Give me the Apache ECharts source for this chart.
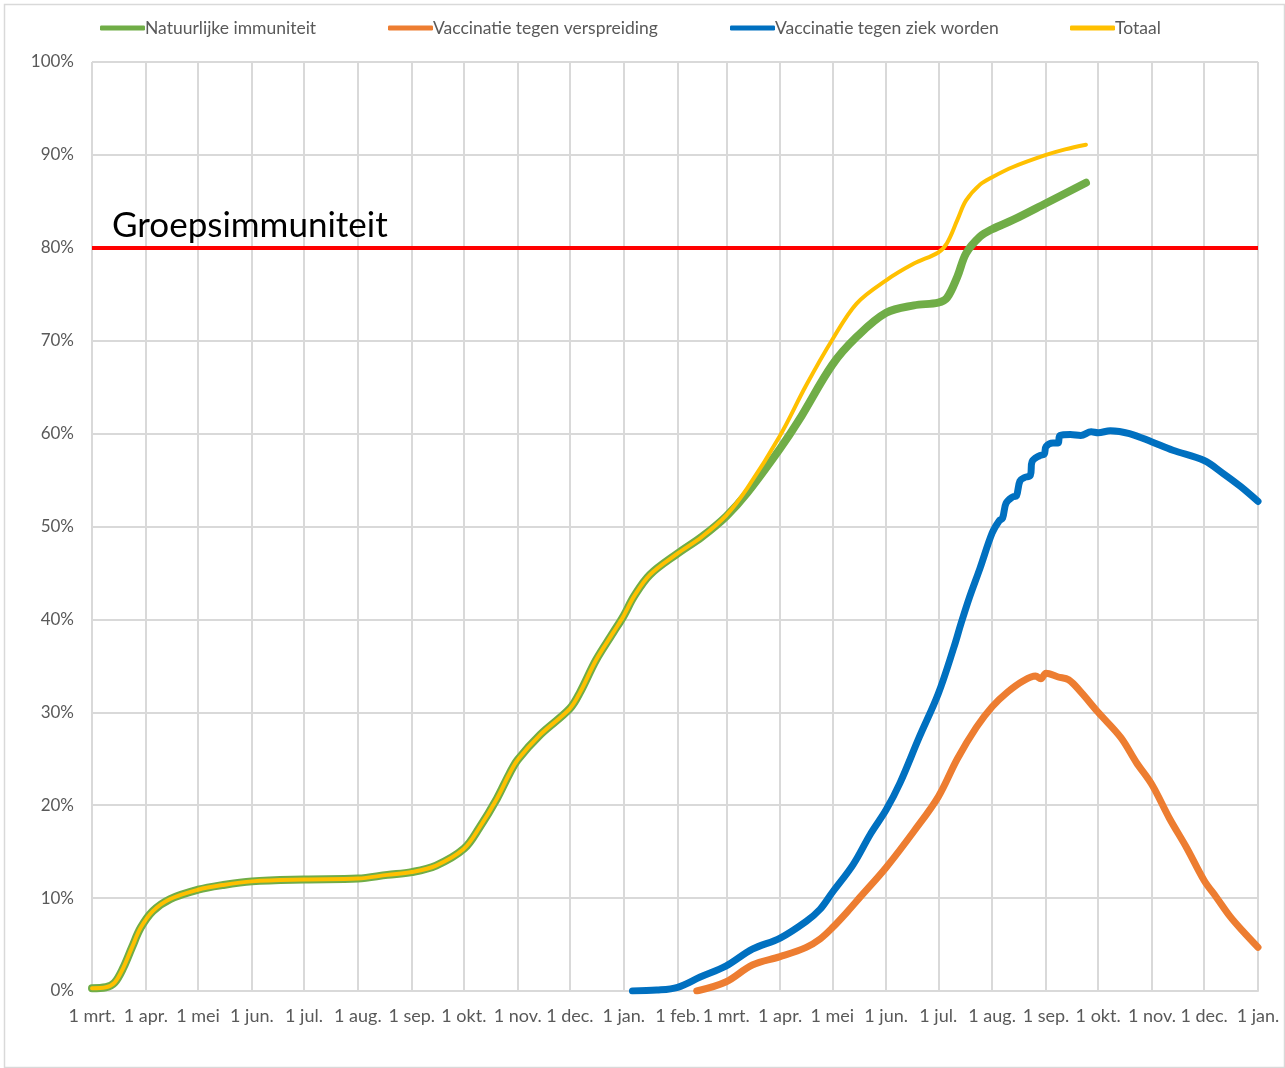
<!DOCTYPE html>
<html>
<head>
<meta charset="utf-8">
<script src="https://cdn.jsdelivr.net/npm/echarts@6/dist/echarts.min.js"></script>
<style>
html,body{margin:0;padding:0;background:#fff;}
#chart{width:1285px;height:1068px;}
</style>
</head>
<body>
<div id="chart"></div>
<script>
// x-axis ticks (first of each month)
const tickDates = ['2020-03-01','2020-04-01','2020-05-01','2020-06-01','2020-07-01','2020-08-01','2020-09-01','2020-10-01','2020-11-01','2020-12-01','2021-01-01','2021-02-01','2021-03-01','2021-04-01','2021-05-01','2021-06-01','2021-07-01','2021-08-01','2021-09-01','2021-10-01','2021-11-01','2021-12-01','2022-01-01'];
const tickLabels = ['1 mrt.','1 apr.','1 mei','1 jun.','1 jul.','1 aug.','1 sep.','1 okt.','1 nov.','1 dec.','1 jan.','1 feb.','1 mrt.','1 apr.','1 mei','1 jun.','1 jul.','1 aug.','1 sep.','1 okt.','1 nov.','1 dec.','1 jan.'];

// Natuurlijke immuniteit (%)
const naturalDates = ['2020-03-01','2020-03-09','2020-03-14','2020-03-19','2020-03-24','2020-03-29','2020-04-05','2020-04-15','2020-05-01','2020-05-15','2020-06-01','2020-07-01','2020-08-01','2020-08-18','2020-09-01','2020-09-15','2020-10-01','2020-10-10','2020-10-20','2020-10-27','2020-11-01','2020-11-14','2020-12-01','2020-12-07','2020-12-16','2020-12-26','2021-01-01','2021-01-07','2021-01-16','2021-02-01','2021-02-15','2021-03-01','2021-03-13','2021-04-01','2021-04-12','2021-05-01','2021-05-15','2021-06-01','2021-06-17','2021-07-01','2021-07-06','2021-07-12','2021-07-17','2021-07-25','2021-08-01','2021-08-13','2021-09-01','2021-09-24'];
const naturalValues = [0.3,0.4,0.9,2.5,4.7,6.8,8.6,9.9,10.9,11.4,11.8,12.0,12.1,12.5,12.8,13.5,15.3,17.6,20.7,23.3,24.9,27.6,30.4,32.2,35.6,38.6,40.4,42.5,44.8,47.1,48.9,51.1,53.6,58.4,61.5,67.4,70.4,73.0,73.8,74.1,74.6,76.9,79.4,81.2,82.0,83.0,84.8,87.0];

// Totaal (%)
const totalDates = ['2020-03-01','2020-03-09','2020-03-14','2020-03-19','2020-03-24','2020-03-29','2020-04-05','2020-04-15','2020-05-01','2020-05-15','2020-06-01','2020-07-01','2020-08-01','2020-08-18','2020-09-01','2020-09-15','2020-10-01','2020-10-10','2020-10-20','2020-10-27','2020-11-01','2020-11-14','2020-12-01','2020-12-07','2020-12-16','2020-12-26','2021-01-01','2021-01-07','2021-01-16','2021-02-01','2021-02-15','2021-03-01','2021-03-13','2021-04-01','2021-04-16','2021-05-01','2021-05-15','2021-06-01','2021-06-17','2021-07-01','2021-07-06','2021-07-12','2021-07-17','2021-07-25','2021-08-01','2021-08-13','2021-09-01','2021-09-12','2021-09-24'];
const totalValues = [0.3,0.4,0.9,2.5,4.7,6.8,8.6,9.9,10.9,11.4,11.8,12.0,12.1,12.5,12.8,13.5,15.3,17.6,20.7,23.3,24.9,27.6,30.4,32.2,35.6,38.6,40.4,42.5,44.8,47.1,48.9,51.2,54.1,59.8,65.2,70.1,74.0,76.5,78.3,79.5,80.5,83.0,85.1,86.8,87.6,88.7,90.0,90.6,91.1];

// Vaccinatie tegen ziek worden (%)
const sickDates = ['2021-01-06','2021-01-20','2021-02-01','2021-02-14','2021-03-01','2021-03-16','2021-04-01','2021-04-16','2021-04-24','2021-05-01','2021-05-13','2021-05-23','2021-06-01','2021-06-09','2021-06-20','2021-07-01','2021-07-10','2021-07-14','2021-07-19','2021-07-25','2021-08-01','2021-08-05','2021-08-07','2021-08-09','2021-08-13','2021-08-15','2021-08-17','2021-08-20','2021-08-23','2021-08-24','2021-08-28','2021-08-31','2021-09-01','2021-09-05','2021-09-08','2021-09-09','2021-09-15','2021-09-21','2021-09-27','2021-10-01','2021-10-08','2021-10-19','2021-11-01','2021-11-13','2021-12-01','2021-12-12','2021-12-22','2022-01-01'];
const sickValues = [0,0.1,0.4,1.5,2.7,4.5,5.7,7.5,8.8,10.6,13.6,16.9,19.5,22.4,27.3,32.0,37.0,39.5,42.4,45.5,49.3,50.6,50.9,52.5,53.2,53.3,54.9,55.3,55.5,57.0,57.6,57.8,58.6,59.0,59.0,59.8,59.9,59.8,60.2,60.1,60.3,60.0,59.1,58.2,57.1,55.7,54.3,52.7];

// Vaccinatie tegen verspreiding (%)
const spreadDates = ['2021-02-12','2021-03-01','2021-03-16','2021-04-01','2021-04-16','2021-04-24','2021-05-01','2021-05-10','2021-05-17','2021-06-01','2021-06-17','2021-07-01','2021-07-12','2021-07-23','2021-08-01','2021-08-10','2021-08-19','2021-08-26','2021-08-29','2021-09-01','2021-09-08','2021-09-14','2021-09-21','2021-10-01','2021-10-14','2021-10-23','2021-11-01','2021-11-11','2021-11-21','2021-12-01','2021-12-08','2021-12-16','2021-12-23','2022-01-01'];
const spreadValues = [0,1.0,2.8,3.7,4.7,5.6,6.8,8.6,10.1,13.3,17.2,20.9,25.0,28.4,30.6,32.2,33.4,33.9,33.6,34.2,33.8,33.5,32.2,30.0,27.3,24.6,22.2,18.6,15.4,11.9,10.1,8.0,6.5,4.7];

const threshold = 80;

const DAY = 86400000;
const origin = Date.UTC(2020, 2, 1);
function dayOf(s) {
  const p = s.split('-').map(Number);
  return Math.round((Date.UTC(p[0], p[1] - 1, p[2]) - origin) / DAY);
}
const tickDays = tickDates.map(dayOf);
function pairs(dates, vals) { return dates.map((d, i) => [dayOf(d), vals[i]]); }

const FONT = 'Lato, "Open Sans", sans-serif';
const GREY = '#595959';

const chart = echarts.init(document.getElementById('chart'), null, {renderer: 'canvas'});

function legendFor(name, left) {
  return {
    data: [{name: name, icon: 'roundRect'}],
    left: left, top: 19, padding: 0,
    itemWidth: 45, itemHeight: 5,
    textStyle: {color: GREY, fontSize: 17.5, fontFamily: FONT, padding: [0, 0, 0, -5]},
    selectedMode: false
  };
}

chart.setOption({
  animation: false,
  backgroundColor: '#fff',
  graphic: [{
    type: 'rect', left: 2, top: 2,
    shape: {width: 1280, height: 1063},
    style: {fill: 'none', stroke: '#d9d9d9', lineWidth: 1.5},
    silent: true
  }],
  legend: [
    legendFor('Natuurlijke immuniteit', 100),
    legendFor('Vaccinatie tegen verspreiding', 388),
    legendFor('Vaccinatie tegen ziek worden', 730),
    legendFor('Totaal', 1070)
  ],
  grid: {left: 92, right: 27, top: 62, bottom: 77, containLabel: false},
  xAxis: {
    type: 'value', min: 0, max: tickDays[tickDays.length - 1],
    axisLine: {show: true, lineStyle: {color: '#d9d9d9', width: 2}},
    axisTick: {show: false, customValues: tickDays},
    splitLine: {show: true, lineStyle: {color: '#d9d9d9', width: 2}},
    axisLabel: {
      customValues: tickDays,
      color: GREY, fontSize: 18, fontFamily: FONT, margin: 16,
      formatter: function (v) { const i = tickDays.indexOf(Math.round(v)); return i >= 0 ? tickLabels[i] : ''; }
    }
  },
  yAxis: {
    type: 'value', min: 0, max: 100, interval: 10,
    axisLine: {show: false},
    axisTick: {show: false},
    splitLine: {show: true, lineStyle: {color: '#d9d9d9', width: 2}},
    axisLabel: {color: GREY, fontSize: 17, fontFamily: FONT, margin: 18, formatter: '{value}%'}
  },
  series: [
    {
      name: 'Natuurlijke immuniteit', type: 'line', data: pairs(naturalDates, naturalValues),
      smooth: 0.35, showSymbol: false, color: '#70ad47',
      lineStyle: {width: 8, cap: 'round', join: 'round'}, z: 2,
      markLine: {
        silent: true, symbol: ['none', 'none'], animation: false,
        lineStyle: {color: '#ff0000', width: 4, type: 'solid'},
        label: {show: true, position: 'insideStartTop', formatter: 'Groepsimmuniteit',
          color: '#000', fontSize: 35, fontFamily: FONT, distance: [20, 5]},
        data: [{yAxis: threshold}],
        z: 1
      }
    },
    {
      name: 'Vaccinatie tegen verspreiding', type: 'line', data: pairs(spreadDates, spreadValues),
      smooth: 0.35, showSymbol: false, color: '#ed7d31',
      lineStyle: {width: 7, cap: 'round', join: 'round'}, z: 3
    },
    {
      name: 'Vaccinatie tegen ziek worden', type: 'line', data: pairs(sickDates, sickValues),
      smooth: 0.35, showSymbol: false, color: '#0070c0',
      lineStyle: {width: 7, cap: 'round', join: 'round'}, z: 4
    },
    {
      name: 'Totaal', type: 'line', data: pairs(totalDates, totalValues),
      smooth: 0.35, showSymbol: false, color: '#ffc000',
      lineStyle: {width: 4, cap: 'round', join: 'round'}, z: 5
    }
  ]
});
</script>
</body>
</html>
